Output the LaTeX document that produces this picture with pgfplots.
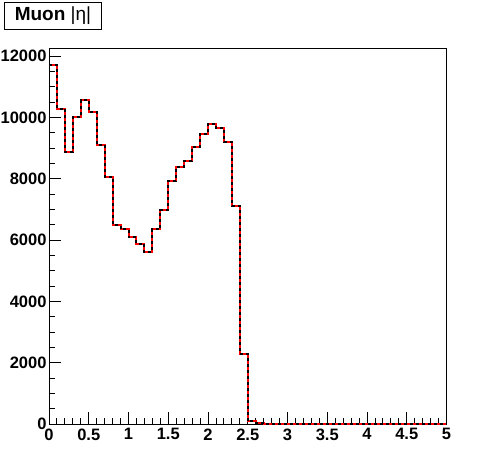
\documentclass[border=0pt]{standalone}
\usepackage{fontspec}
\setmainfont{Liberation Sans}
\usepackage{pgfplots}
\pgfplotsset{compat=1.18}
\begin{document}
\begin{tikzpicture}
\useasboundingbox (0pt,0pt) rectangle (496pt,472pt);
\begin{axis}[
  at={(49pt,48pt)}, anchor=south west,
  scale only axis, width=397.5pt, height=376pt,
  xmin=0, xmax=5, ymin=0, ymax=12265,
  axis line style={line width=0.9pt},
  xtick={0,0.5,...,5},
  xticklabels={0,0.5,1,1.5,2,2.5,3,3.5,4,4.5,5},
  ytick={0,2000,4000,6000,8000,10000,12000},
  yticklabels={0,2000,4000,6000,8000,10000,12000},
  minor x tick num=4, minor y tick num=3,
  tick align=inside, xtick pos=bottom, ytick pos=left,
  major tick length=12pt, minor tick length=6pt,
  every tick/.style={black, line width=0.9pt},
  scaled y ticks=false,
  tick label style={font=\fontsize{16.5}{17}\selectfont\bfseries},
  xticklabel style={yshift=-1pt},
  yticklabel style={xshift=1pt},
  /pgf/number format/assume math mode=true,
  clip=false,
]
\pgfplotstableread{
x y
0.0 11700
0.1 10290
0.2 8860
0.3 10010
0.4 10560
0.5 10180
0.6 9110
0.7 8065
0.8 6495
0.9 6350
1.0 6110
1.1 5885
1.2 5615
1.3 6350
1.4 6995
1.5 7930
1.6 8395
1.7 8585
1.8 9050
1.9 9475
2.0 9800
2.1 9670
2.2 9210
2.3 7115
2.4 2295
2.5 95
2.6 35
2.7 12
2.8 6
2.9 5
3.0 4
3.1 4
3.2 3
3.3 3
3.4 3
3.5 2
3.6 2
3.7 2
3.8 2
3.9 2
4.0 2
4.1 2
4.2 1
4.3 1
4.4 1
4.5 1
4.6 1
4.7 1
4.8 1
4.9 1
5.0 1
}\histdata
\addplot[const plot, red, line width=2pt] table[x=x,y=y] {\histdata};
\addplot[const plot, black, line width=2pt, dash pattern=on 3pt off 3pt] table[x=x,y=y] {\histdata};
\end{axis}
\node[draw, line width=0.9pt, anchor=north west, minimum width=97pt, minimum height=27pt, inner sep=0pt,
  font=\fontsize{19}{20}\selectfont] at (4pt,470pt) {\textbf{Muon} |η|};
\end{tikzpicture}
\end{document}
